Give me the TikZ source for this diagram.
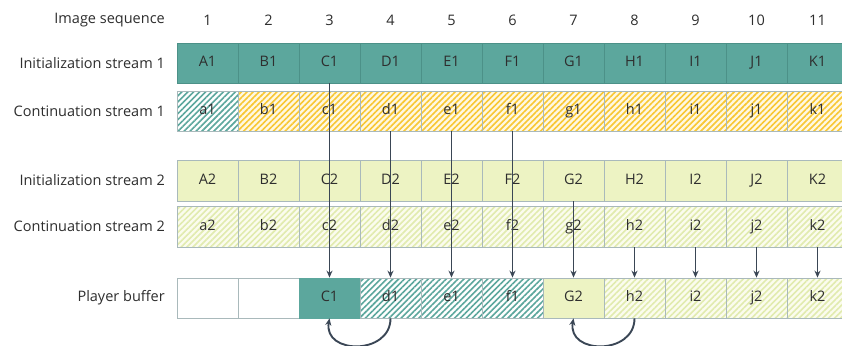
\documentclass[tikz,border=0pt]{standalone}
\usepackage{fontspec}
\setmainfont{Open Sans}
\usetikzlibrary{arrows.meta,patterns.meta}
\definecolor{tealc}{HTML}{5CA79D}
\definecolor{tealdark}{HTML}{4C9188}
\definecolor{yellowc}{HTML}{F8C733}
\definecolor{yellowbg}{HTML}{FFF8E2}
\definecolor{greenpale}{HTML}{EDF3C3}
\definecolor{greenstripe}{HTML}{E1EBAE}
\definecolor{greenbg}{HTML}{FBFCEE}
\definecolor{cellgray}{HTML}{A9B9BB}
\definecolor{arrowc}{HTML}{3A4655}
\definecolor{txt}{HTML}{2E2E2E}
\begin{document}
\begin{tikzpicture}[x=1pt,y=-1pt,
  font=\fontsize{14.5}{17}\selectfont, text=txt,
  cellbase/.style={minimum width=61pt, minimum height=40pt, inner sep=0pt, text height=10.5pt, text depth=3pt, draw=cellgray, line width=0.8pt},
  initone/.style={cellbase, fill=tealc, draw=tealdark},
  hatchteal/.style={cellbase, preaction={fill=white}, pattern={Lines[angle=45,distance=4.2pt,line width=1.6pt]}, pattern color=tealc},
  hatchyellow/.style={cellbase, preaction={fill=yellowbg}, pattern={Lines[angle=45,distance=4.2pt,line width=1.6pt]}, pattern color=yellowc},
  inittwo/.style={cellbase, fill=greenpale},
  hatchgreen/.style={cellbase, preaction={fill=greenbg}, pattern={Lines[angle=45,distance=4.2pt,line width=1.6pt]}, pattern color=greenstripe},
  emptycell/.style={cellbase, fill=white},
  lbl/.style={anchor=east, inner sep=0pt},
  num/.style={inner sep=0pt},
  arr/.style={draw=arrowc, line width=1.9pt, -{Stealth[length=7pt,width=6pt]}},
]
\useasboundingbox (0,0) rectangle (842,345);
\clip (0,0) rectangle (842,345);
\fill[white] (0,0) rectangle (842,345);

% header
\node[lbl] (hseq) at (165,20) {Image sequence};
\foreach \i in {1,...,11} {
  \node[num] (n\i) at ({177+61*(\i-0.5)},20) {\i};
}

% row labels
\node[lbl] (l1) at (165,63) {Initialization stream 1};
\node[lbl] (l2) at (165,111) {Continuation stream 1};
\node[lbl] (l3) at (165,180.5) {Initialization stream 2};
\node[lbl] (l4) at (165,226.5) {Continuation stream 2};
\node[lbl] (l5) at (165,298) {Player buffer};

% initialization stream 1
\foreach \lab [count=\i] in {A1,B1,C1,D1,E1,F1,G1,H1,I1,J1,K1} {
  \node[initone] (ia\i) at ({177+61*(\i-0.5)},63) {\lab};
}
% continuation stream 1
\node[hatchteal] (ca1) at ({177+61*0.5},111) {a1};
\foreach \lab [count=\j] in {b1,c1,d1,e1,f1,g1,h1,i1,j1,k1} {
  \pgfmathtruncatemacro{\i}{\j+1}
  \node[hatchyellow] (ca\i) at ({177+61*(\i-0.5)},111) {\lab};
}
% initialization stream 2
\foreach \lab [count=\i] in {A2,B2,C2,D2,E2,F2,G2,H2,I2,J2,K2} {
  \node[inittwo, minimum height=41pt] (ib\i) at ({177+61*(\i-0.5)},180.5) {\lab};
}
% continuation stream 2
\foreach \lab [count=\i] in {a2,b2,c2,d2,e2,f2,g2,h2,i2,j2,k2} {
  \node[hatchgreen, minimum height=41pt] (cb\i) at ({177+61*(\i-0.5)},226.5) {\lab};
}
% player buffer
\node[emptycell] (pb1) at ({177+61*0.5},298) {};
\node[emptycell] (pb2) at ({177+61*1.5},298) {};
\node[initone, draw=tealc] (pb3) at ({177+61*2.5},298) {C1};
\node[hatchteal] (pb4) at ({177+61*3.5},298) {d1};
\node[hatchteal] (pb5) at ({177+61*4.5},298) {e1};
\node[hatchteal] (pb6) at ({177+61*5.5},298) {f1};
\node[inittwo] (pb7) at ({177+61*6.5},298) {G2};
\node[hatchgreen] (pb8) at ({177+61*7.5},298) {h2};
\node[hatchgreen] (pb9) at ({177+61*8.5},298) {i2};
\node[hatchgreen] (pb10) at ({177+61*9.5},298) {j2};
\node[hatchgreen] (pb11) at ({177+61*10.5},298) {k2};

% arrows
\draw[arr] (ia3.south) -- (pb3.north);
\foreach \i in {4,5,6} { \draw[arr] (ca\i.south) -- (pb\i.north); }
\draw[arr] (ib7.south) -- (pb7.north);
\foreach \i in {8,...,11} { \draw[arr] (cb\i.south) -- (pb\i.north); }

% swap arcs
\draw[arr] (pb4.south) to[out=-90,in=-100,looseness=1.55] (pb3.south);
\draw[arr] (pb8.south) to[out=-90,in=-100,looseness=1.55] (pb7.south);
\end{tikzpicture}
\end{document}
